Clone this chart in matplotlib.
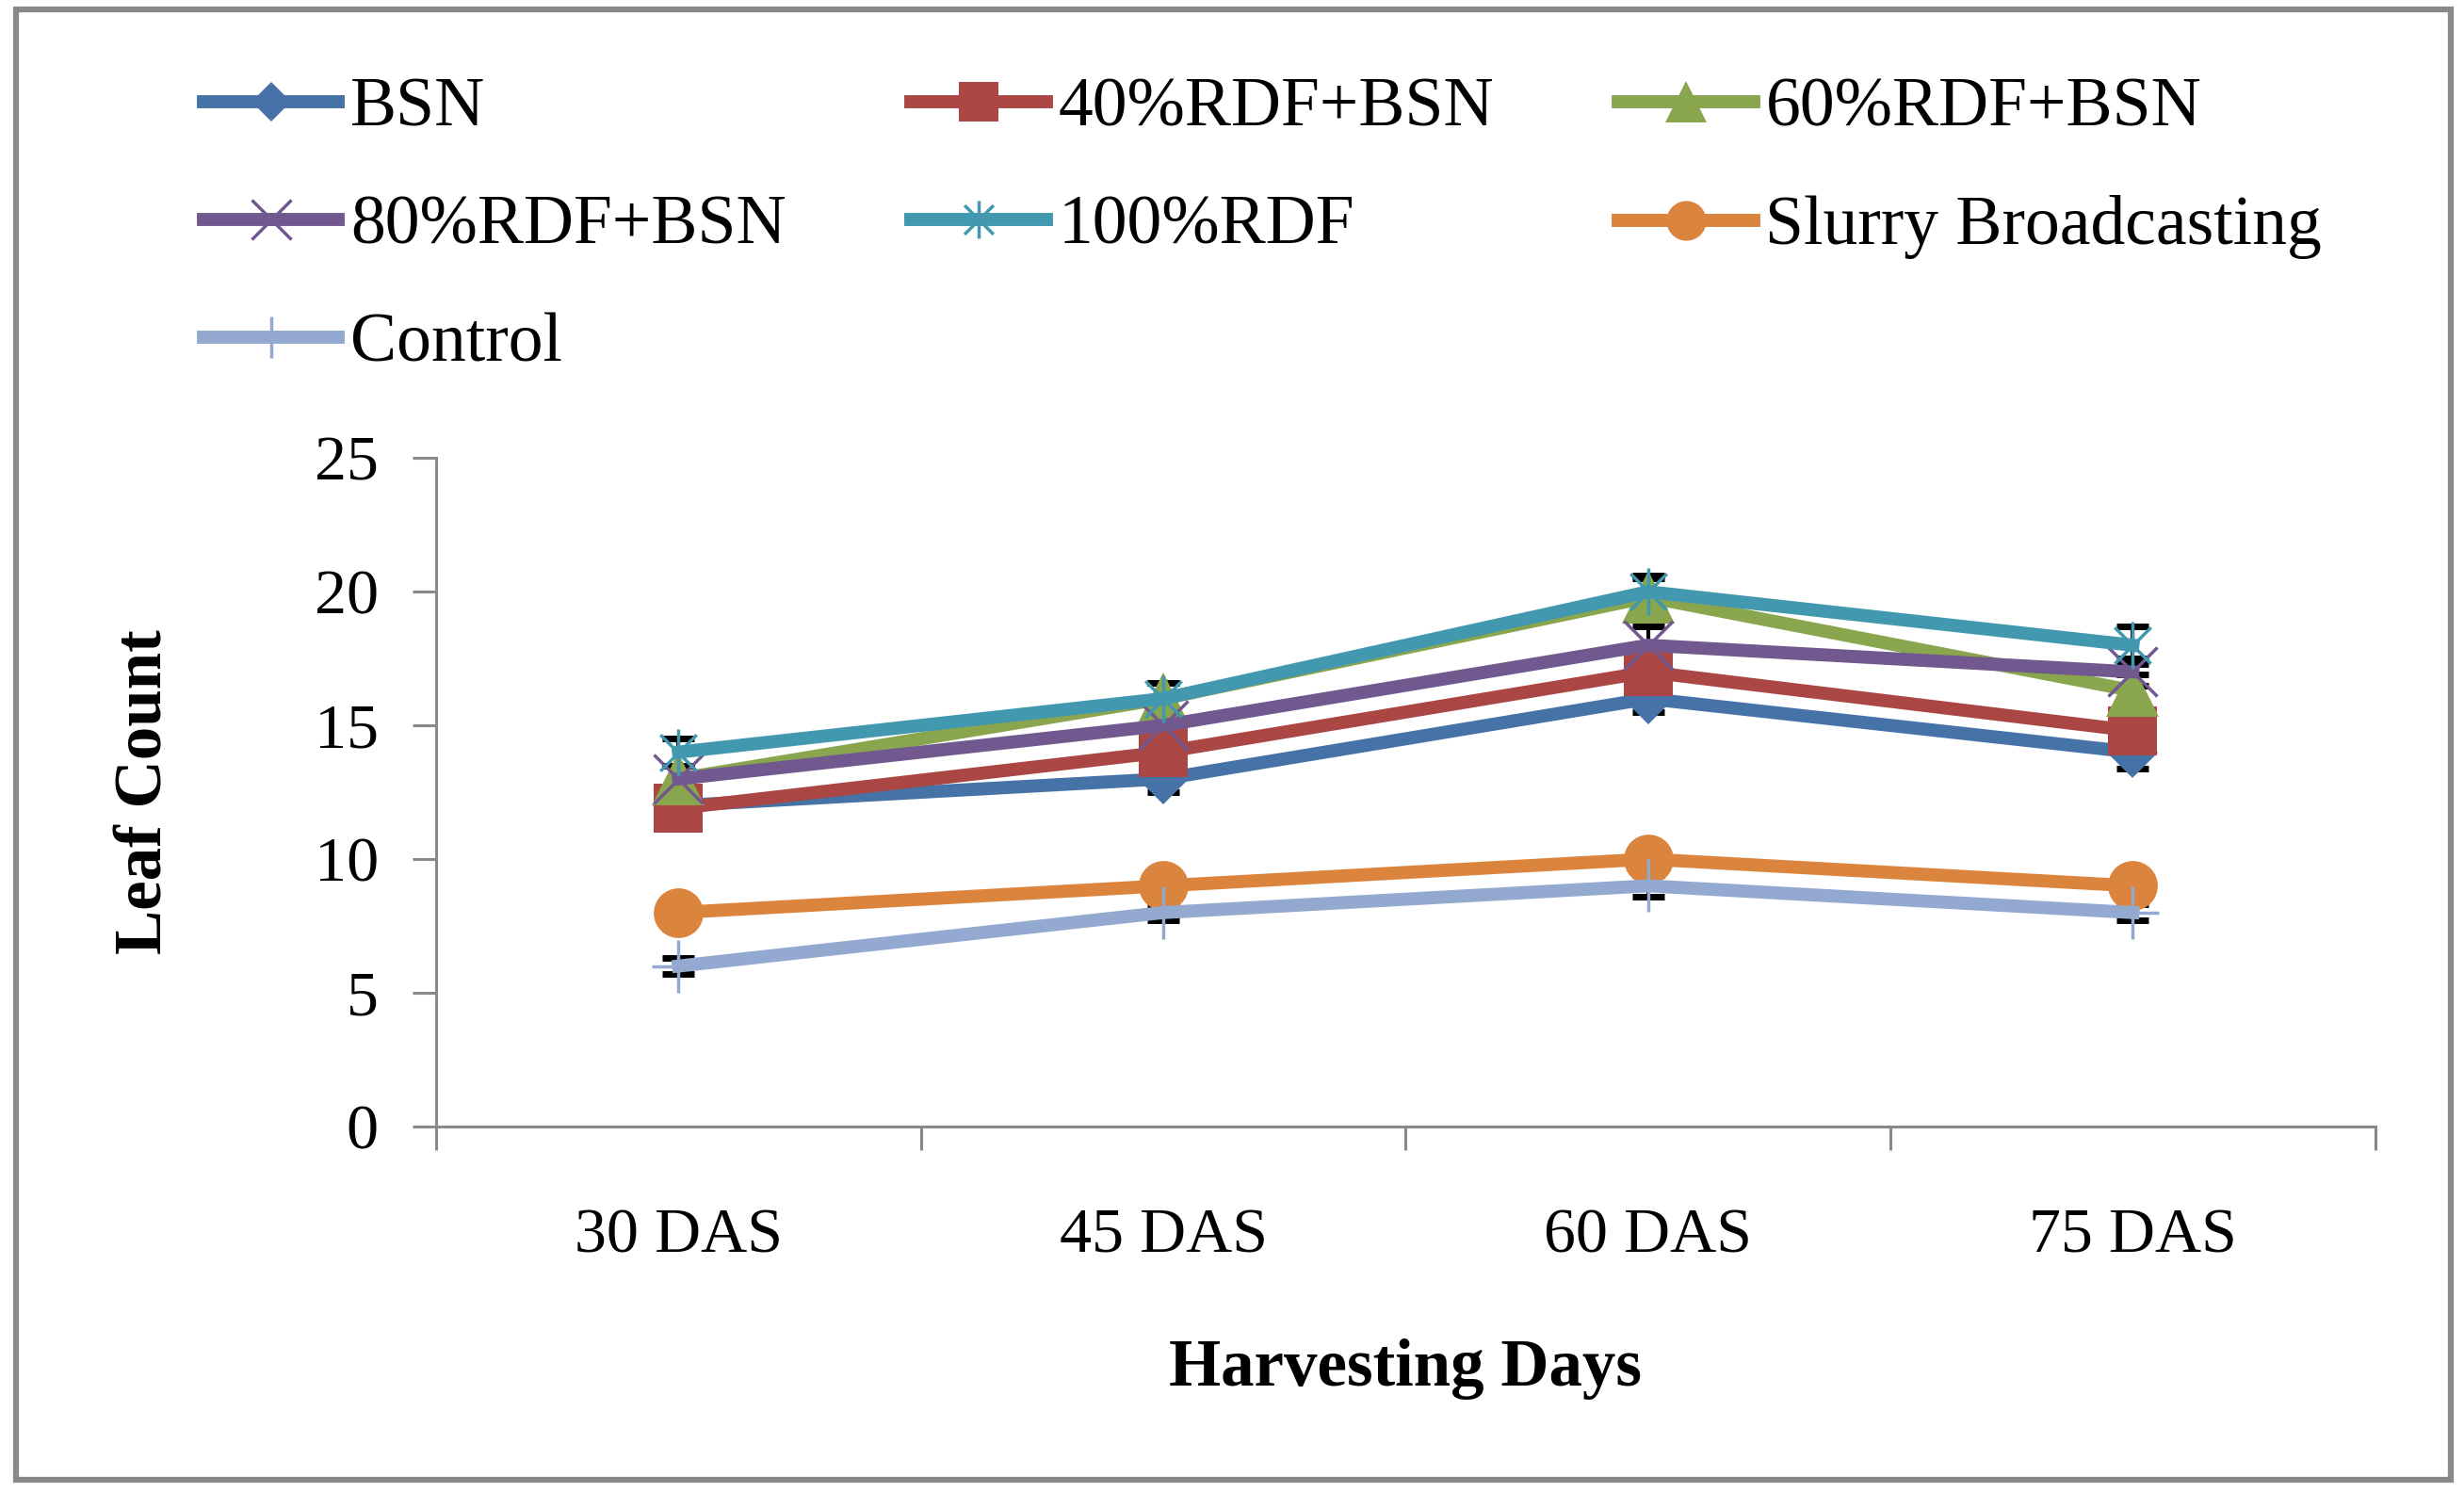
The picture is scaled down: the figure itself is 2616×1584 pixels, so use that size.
import numpy as np
import matplotlib
matplotlib.use("Agg")
import matplotlib.pyplot as plt
from matplotlib.path import Path
from matplotlib.patches import Rectangle

plt.rcParams['font.family'] = ['Liberation Serif', 'DejaVu Serif']

days = ["30 DAS", "45 DAS", "60 DAS", "75 DAS"]
treatments = ["BSN", "40%RDF+BSN", "60%RDF+BSN", "80%RDF+BSN",
              "100%RDF", "Slurry Broadcasting", "Control"]
bsn = [12, 13, 16, 14]
rdf40 = [11.9, 14, 17, 14.8]
rdf60 = [13, 16, 19.8, 16.3]
rdf80 = [13, 15, 18, 17]
rdf100 = [14, 16, 20, 18]
slurry = [8, 9, 10, 9]
control = [6, 8, 9, 8]
err_bsn = [0.5, 0.5, 0.5, 0.6]
err_40 = [0.5, 0.5, 0.6, 0.6]
err_60 = [0.5, 0.6, 0.7, 0.6]
err_80 = [0.5, 0.6, 0.7, 0.5]
err_100 = [0.5, 0.6, 0.6, 0.7]
err_slurry = [0.3, 0.3, 0.4, 0.3]
err_control = [0.3, 0.3, 0.4, 0.3]

series = [bsn, rdf40, rdf60, rdf80, rdf100, slurry, control]
errors = [err_bsn, err_40, err_60, err_80, err_100, err_slurry, err_control]
colours = ["#4572A7", "#AA4643", "#89A54E", "#71588F", "#4198AF", "#DB843D", "#93A9CF"]

# excel style star: an x with a vertical bar
star = Path([(-1, -1), (1, 1), (-1, 1), (1, -1), (0, -1.3), (0, 1.3)],
            [Path.MOVETO, Path.LINETO, Path.MOVETO, Path.LINETO, Path.MOVETO, Path.LINETO])
markers = ["D", "s", "^", "x", star, "o", "+"]
sizes = [27, 38, 40, 38, 36, 38, 40]

fig = plt.figure(figsize=(26.16, 15.84), dpi=100)
ax = fig.add_axes([0.177, 0.245, 0.787, 0.448])

x = np.arange(len(days))
for vals, err, c in zip(series, errors, colours):
    ax.errorbar(x, vals, yerr=err, fmt="none", ecolor="black", elinewidth=3,
                capsize=12, capthick=5, zorder=1)

handles = []
for k in range(len(series)):
    h, = ax.plot(x, series[k], color=colours[k], lw=10, marker=markers[k],
                 markersize=sizes[k], markeredgewidth=2.5 if k in (3, 4, 6) else 0,
                 markeredgecolor=colours[k], label=treatments[k], zorder=3 + k * 0.1)
    handles.append(h)

ax.set_xlim(-0.5, 3.5)
ax.set_ylim(0, 25)
ax.set_yticks(range(0, 26, 5))
ax.set_xticks(np.arange(-0.5, 4, 1))
ax.set_xticklabels([])
ax.set_xticks(x, minor=True)
ax.set_xticklabels(days, minor=True)
ax.tick_params(axis="x", which="minor", length=0, pad=62, labelsize=49)
ax.tick_params(axis="x", which="major", length=18, width=2.2, color="#898989")
ax.tick_params(axis="y", length=18, width=2.2, color="#898989", labelsize=49, pad=26)
for s in ["top", "right"]:
    ax.spines[s].set_visible(False)
for s in ["left", "bottom"]:
    ax.spines[s].set_color("#898989")
    ax.spines[s].set_linewidth(2.2)

ax.set_xlabel("Harvesting Days", fontsize=51, fontweight="bold", labelpad=56)
ax.set_ylabel("Leaf Count", fontsize=51, fontweight="bold", labelpad=106)

# legend reads row by row, matplotlib fills column by column
order = [0, 3, 6, 1, 4, 2, 5]
fig.legend([handles[i] for i in order], [treatments[i] for i in order],
           loc="upper left", bbox_to_anchor=(0.0825, 0.948), ncol=3, frameon=False,
           fontsize=53, handlelength=1.95, handletextpad=0.17, columnspacing=1.8,
           labelspacing=0.78, borderpad=0, borderaxespad=0, markerscale=0.8)

fig.patches.append(Rectangle((0.0065, 0.0082), 0.9882, 0.9855, transform=fig.transFigure,
                             fill=False, edgecolor="#898989", lw=4.5))

fig.savefig("out.png", dpi=100)
